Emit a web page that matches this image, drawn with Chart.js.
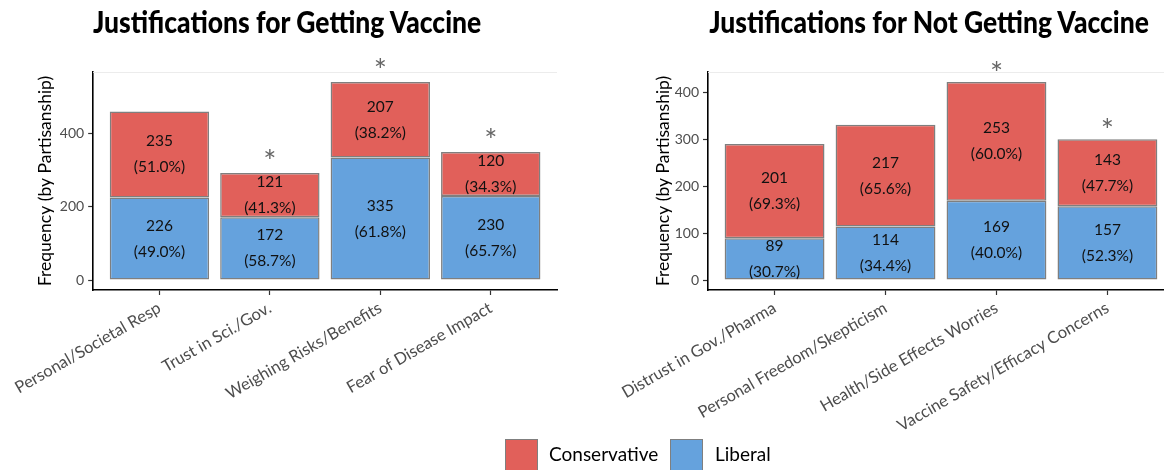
<!DOCTYPE html>
<html>
<head>
<meta charset="utf-8">
<script src="https://cdn.jsdelivr.net/npm/chart.js@4.4.0/dist/chart.umd.min.js"></script>
<style>
  html, body { margin: 0; padding: 0; background: #fff; overflow: hidden; }
  #wrap { position: relative; width: 1164px; height: 470px; overflow: hidden; background: #fff; }
  canvas { position: absolute; top: 0; }
  .ttl { position: absolute; font-family: Lato, sans-serif; font-weight: 900; color: #000; white-space: nowrap; line-height: 1; transform-origin: 50% 88%; transform: scaleY(1.12); }
  .lg-box { position: absolute; width: 31px; height: 31px; border: 1.5px solid #7f7f7f; }
  .lg-txt { position: absolute; font-family: Lato, sans-serif; font-size: 19px; color: #000; line-height: 1; white-space: nowrap; }
</style>
</head>
<body>
<div id="wrap">
  <canvas id="cLeft" width="600" height="470" style="left:0px"></canvas>
  <canvas id="cRight" width="600" height="470" style="left:600px"></canvas>
  <div class="ttl" id="tLeft">Justifications for Getting Vaccine</div>
  <div class="ttl" id="tRight">Justifications for Not Getting Vaccine</div>
  <div class="lg-box" style="left:505px; top:439px; background:#E1605A;"></div>
  <div class="lg-txt" style="left:549px; top:444px;">Conservative</div>
  <div class="lg-box" style="left:670px; top:439px; background:#65A2DD;"></div>
  <div class="lg-txt" style="left:715px; top:444px;">Liberal</div>
</div>
<script>
// ---- Data ----
const getCategories = ['Personal/Societal Resp', 'Trust in Sci./Gov.', 'Weighing Risks/Benefits', 'Fear of Disease Impact'];
const getConservative = [235, 121, 207, 120];
const getLiberal = [226, 172, 335, 230];
const getSignificant = [false, true, true, true];
const getYTicks = [0, 200, 400];

const notCategories = ['Distrust in Gov./Pharma', 'Personal Freedom/Skepticism', 'Health/Side Effects Worries', 'Vaccine Safety/Efficacy Concerns'];
const notConservative = [201, 217, 253, 143];
const notLiberal = [89, 114, 169, 157];
const notSignificant = [false, false, true, true];
const notYTicks = [0, 100, 200, 300, 400];

const seriesNames = ['Conservative', 'Liberal'];
const yTitle = 'Frequency (by Partisanship)';

// ---- Styles ----
const RED = '#E1605A', BLUE = '#65A2DD', EDGE = '#7f7f7f';
const FONT = 'Lato, sans-serif';

const labelPlugin = {
  id: 'segLabels',
  afterDatasetsDraw(chart, args, opts) {
    const ctx = chart.ctx;
    const yScale = chart.scales.y;
    const cons = opts.cons, lib = opts.lib;
    ctx.save();
    ctx.font = '15.5px ' + FONT;
    ctx.fillStyle = '#111';
    ctx.textAlign = 'center';
    ctx.textBaseline = 'middle';
    chart.data.datasets.forEach((ds, di) => {
      const meta = chart.getDatasetMeta(di);
      meta.data.forEach((bar, i) => {
        const v = di === 0 ? lib[i] : cons[i];
        const tot = cons[i] + lib[i];
        const pct = (100 * v / tot).toFixed(1) + '%';
        const mid = (bar.y + bar.base) / 2;
        ctx.fillText(String(v), bar.x, mid - 13);
        ctx.fillText('(' + pct + ')', bar.x, mid + 13);
      });
    });
    // significance asterisks
    ctx.font = '31px ' + FONT;
    ctx.fillStyle = '#666';
    ctx.textBaseline = 'alphabetic';
    const m = ctx.measureText('*');
    const half = (m.actualBoundingBoxAscent - m.actualBoundingBoxDescent) / 2;
    const meta0 = chart.getDatasetMeta(0);
    opts.sig.forEach((s, i) => {
      if (!s) return;
      const top = yScale.getPixelForValue(cons[i] + lib[i]);
      const cy = top - opts.starGap;
      ctx.fillText('*', meta0.data[i].x, cy + half);
    });
    ctx.restore();
  },
  beforeDatasetsDraw(chart) {
    const {ctx, chartArea} = chart;
    ctx.save();
    ctx.strokeStyle = '#ececec';
    ctx.lineWidth = 1;
    ctx.beginPath();
    ctx.moveTo(chartArea.left, chartArea.top + 0.5);
    ctx.lineTo(chartArea.right, chartArea.top + 0.5);
    ctx.stroke();
    ctx.restore();
  }
};

function makeChart(id, cats, cons, lib, sig, yTicks, cfg) {
  const totals = cons.map((c, i) => c + lib[i]);
  const maxT = Math.max(...totals);
  return new Chart(document.getElementById(id), {
    type: 'bar',
    data: {
      datasets: [
        { label: seriesNames[1], data: lib.map((v, i) => ({x: i, y: v})), backgroundColor: BLUE, borderColor: EDGE, borderWidth: 1.5, borderSkipped: false, categoryPercentage: 1, barPercentage: 0.9 },
        { label: seriesNames[0], data: cons.map((v, i) => ({x: i, y: v})), backgroundColor: RED, borderColor: EDGE, borderWidth: 1.5, borderSkipped: false, categoryPercentage: 1, barPercentage: 0.9 }
      ]
    },
    options: {
      responsive: false,
      animation: false,
      devicePixelRatio: 1,
      layout: { padding: { left: 0, right: cfg.padRight, top: 72, bottom: 0 } },
      plugins: {
        legend: { display: false },
        tooltip: { enabled: false },
        title: { display: false },
        segLabels: { cons, lib, sig, starGap: cfg.starGap }
      },
      scales: {
        x: {
          type: 'linear',
          stacked: true,
          min: -0.6,
          max: cats.length - 1 + 0.6,
          offset: false,
          afterBuildTicks: s => { s.ticks = cats.map((c, i) => ({value: i})); },
          afterFit: s => { s.height = 180; },
          grid: { offset: false, drawOnChartArea: false, drawTicks: true, tickLength: 5, color: '#333', tickWidth: 1.2 },
          border: { display: true, color: '#000', width: 1.6 },
          ticks: {
            autoSkip: false, minRotation: 30, maxRotation: 30, padding: 3,
            color: '#4d4d4d', font: { family: FONT, size: 16.5 },
            callback: v => cats[v]
          }
        },
        y: {
          stacked: true,
          min: -0.05 * maxT,
          max: 1.05 * maxT,
          afterBuildTicks: s => { s.ticks = yTicks.map(v => ({value: v})); },
          afterFit: s => { s.width = cfg.yWidth; },
          grid: { drawOnChartArea: false, drawTicks: true, tickLength: 5, color: '#333', tickWidth: 1.2 },
          border: { display: true, color: '#000', width: 1.6 },
          ticks: { color: '#4d4d4d', font: { family: FONT, size: 14 }, padding: 4 },
          title: { display: true, text: yTitle, color: '#000', font: { family: FONT, size: 17.5 }, padding: { top: cfg.titlePad, bottom: 0 } }
        }
      }
    },
    plugins: [labelPlugin]
  });
}

makeChart('cLeft', getCategories, getConservative, getLiberal, getSignificant, getYTicks,
  { padRight: 43, yWidth: 93, titlePad: 35, starGap: 19 });
makeChart('cRight', notCategories, notConservative, notLiberal, notSignificant, notYTicks,
  { padRight: 26, yWidth: 108, titlePad: 53, starGap: 16 });

// ---- Titles: fit font size to widths ----
(function () {
  const c = document.createElement('canvas').getContext('2d');
  c.font = '900 100px ' + FONT;
  const wl = c.measureText(document.getElementById('tLeft').textContent).width;
  const wr = c.measureText(document.getElementById('tRight').textContent).width;
  const size = ((387 / wl) * 100 + (445 / wr) * 100) / 2;
  [['tLeft', 288], ['tRight', 930]].forEach(([id, cx]) => {
    const el = document.getElementById(id);
    el.style.fontSize = size + 'px';
    const w = c.measureText(el.textContent).width * size / 100;
    el.style.left = (cx - w / 2) + 'px';
    el.style.top = (33 - 0.887 * size) + 'px';
  });
})();
</script>
</body>
</html>
